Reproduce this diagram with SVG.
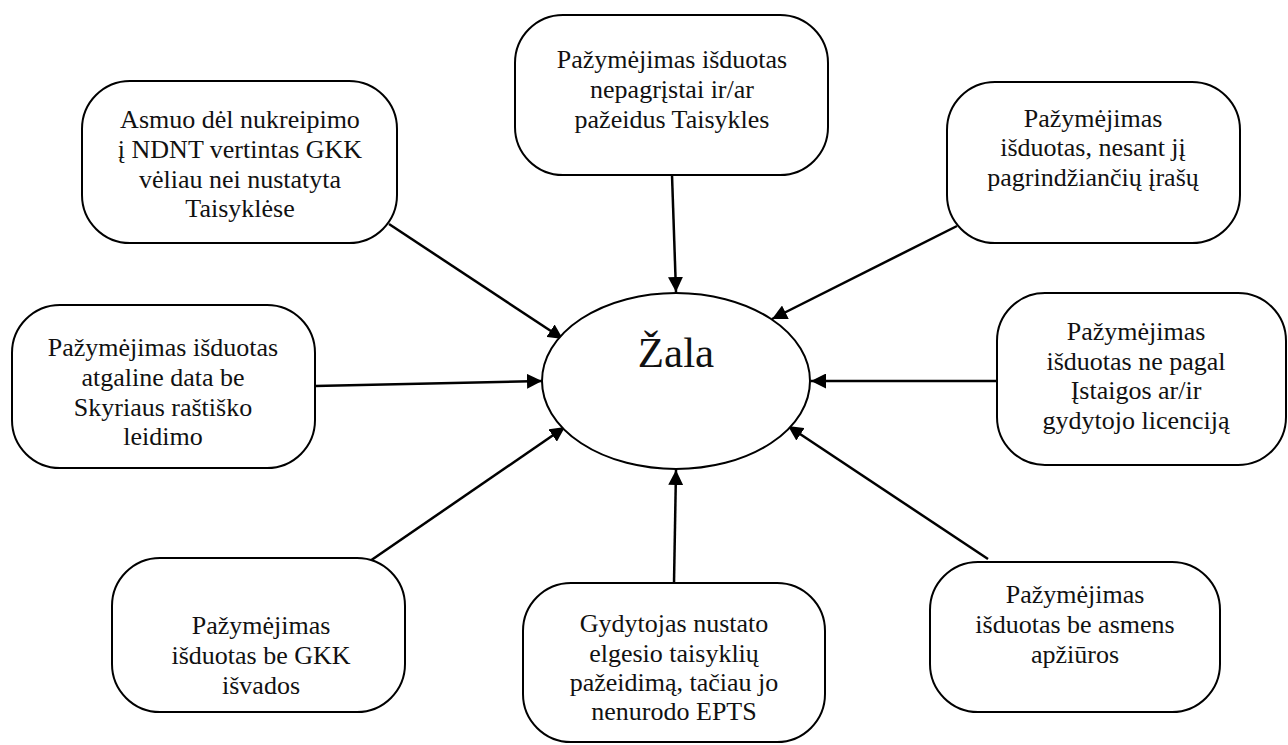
<svg xmlns="http://www.w3.org/2000/svg" width="1288" height="745" viewBox="0 0 1288 745">
  <defs>
    <marker id="arrow" viewBox="0 0 10 10" refX="10" refY="5" markerWidth="6" markerHeight="6" markerUnits="strokeWidth" orient="auto">
      <path d="M0,0 L10,5 L0,10 z" fill="#000"/>
    </marker>
    <style>
      .box { fill: #fff; stroke: #000; stroke-width: 2; }
      .t { font-family: "Liberation Serif", "Times New Roman", serif; font-size: 26px; fill: #111; text-anchor: middle; }
      .big { font-family: "Liberation Serif", "Times New Roman", serif; font-size: 43px; fill: #111; text-anchor: middle; }
      .conn { stroke: #000; stroke-width: 2.5; fill: none; marker-end: url(#arrow); }
    </style>
  </defs>
  <rect width="1288" height="745" fill="#fff"/>

  <!-- connectors -->
  <g id="connectors">
    <line class="conn" x1="389" y1="224" x2="563" y2="339"/>
    <line class="conn" x1="672" y1="175" x2="676" y2="292"/>
    <line class="conn" x1="957" y1="226" x2="772" y2="319"/>
    <line class="conn" x1="315" y1="386" x2="542" y2="381"/>
    <line class="conn" x1="997" y1="381" x2="811" y2="381"/>
    <line class="conn" x1="370" y1="561" x2="565" y2="427"/>
    <line class="conn" x1="674" y1="583" x2="676" y2="470"/>
    <line class="conn" x1="988" y1="559" x2="788" y2="426"/>
  </g>

  <!-- central node -->
  <g id="zala">
    <ellipse class="box" cx="676" cy="381" rx="134" ry="88"/>
    <text class="big" x="676" y="367">Žala</text>
  </g>

  <g id="n-asmuo">
    <rect class="box" x="82" y="81" width="315" height="162" rx="48"/>
    <text class="t" x="240" y="128">Asmuo dėl nukreipimo</text>
    <text class="t" x="240" y="158">į NDNT vertintas GKK</text>
    <text class="t" x="240" y="188">vėliau nei nustatyta</text>
    <text class="t" x="240" y="217">Taisyklėse</text>
  </g>

  <g id="n-nepagristai">
    <rect class="box" x="515" y="15" width="313" height="160" rx="48"/>
    <text class="t" x="672" y="68">Pažymėjimas išduotas</text>
    <text class="t" x="672" y="98">nepagrįstai ir/ar</text>
    <text class="t" x="672" y="128">pažeidus Taisykles</text>
  </g>

  <g id="n-irasu">
    <rect class="box" x="947" y="82" width="293" height="161" rx="48"/>
    <text class="t" x="1093" y="127">Pažymėjimas</text>
    <text class="t" x="1093" y="156">išduotas, nesant jį</text>
    <text class="t" x="1093" y="186">pagrindžiančių įrašų</text>
  </g>

  <g id="n-atgaline">
    <rect class="box" x="12" y="305" width="303" height="163" rx="48"/>
    <text class="t" x="163" y="356">Pažymėjimas išduotas</text>
    <text class="t" x="163" y="386">atgaline data be</text>
    <text class="t" x="163" y="416">Skyriaus raštiško</text>
    <text class="t" x="163" y="445">leidimo</text>
  </g>

  <g id="n-licencija">
    <rect class="box" x="997" y="293" width="289" height="172" rx="48"/>
    <text class="t" x="1136" y="340">Pažymėjimas</text>
    <text class="t" x="1136" y="370">išduotas ne pagal</text>
    <text class="t" x="1136" y="399">Įstaigos ar/ir</text>
    <text class="t" x="1136" y="429">gydytojo licenciją</text>
  </g>

  <g id="n-gkk">
    <rect class="box" x="112" y="558" width="293" height="154" rx="48"/>
    <text class="t" x="261" y="634">Pažymėjimas</text>
    <text class="t" x="261" y="664">išduotas be GKK</text>
    <text class="t" x="261" y="694">išvados</text>
  </g>

  <g id="n-gydytojas">
    <rect class="box" x="523" y="583" width="302" height="159" rx="48"/>
    <text class="t" x="674" y="632">Gydytojas nustato</text>
    <text class="t" x="674" y="662">elgesio taisyklių</text>
    <text class="t" x="674" y="691">pažeidimą, tačiau jo</text>
    <text class="t" x="674" y="720">nenurodo EPTS</text>
  </g>

  <g id="n-apziuros">
    <rect class="box" x="930" y="562" width="290" height="150" rx="48"/>
    <text class="t" x="1075" y="603">Pažymėjimas</text>
    <text class="t" x="1075" y="633">išduotas be asmens</text>
    <text class="t" x="1075" y="663">apžiūros</text>
  </g>
</svg>
